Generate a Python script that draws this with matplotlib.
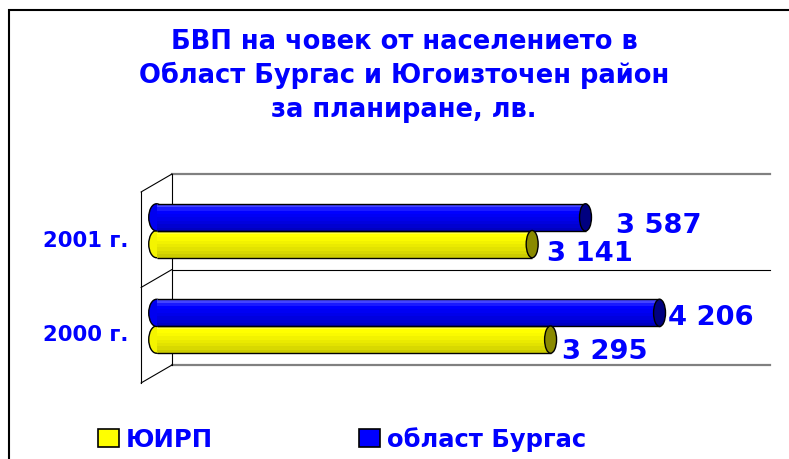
import matplotlib
matplotlib.use("Agg")
import matplotlib.pyplot as plt
from matplotlib.patches import Ellipse, Patch, Rectangle
from matplotlib.transforms import offset_copy

# ---- data ----
categories = ["2000 г.", "2001 г."]
juirp = [3295, 3141]          # ЮИРП (yellow)
burgas = [4206, 3587]         # област Бургас (blue)
series_names = ["ЮИРП", "област Бургас"]
title_lines = ["БВП на човек от населението в",
               "Област Бургас и Югоизточен район",
               "за планиране, лв."]

BLUE_TXT = "#0000FF"
W, H = 789, 460
fig = plt.figure(figsize=(W / 100, H / 100), dpi=100)
fig.patch.set_facecolor("white")

# figure border (left & top visible, right/bottom cut)
fig.patches.append(Rectangle((9 / W, -0.05), 1.2, 1.05 - 10.5 / H,
                             transform=fig.transFigure, fill=False,
                             ec="black", lw=1.5, clip_on=False))

# title
for txt, base in zip(title_lines, [49, 83, 117]):
    fig.text(404 / W, 1 - base / H, txt, ha="center", va="baseline",
             fontsize=18.5, fontweight="bold", color=BLUE_TXT)

# axes = middle depth plane
ax = fig.add_axes([156.5 / W, 1 - 375 / H, 598 / W, 191 / H])
ax.set_xlim(0, 5000)
ax.set_ylim(-0.5, 1.5)
ax.axis("off")

DX, DY = 15.5, 9
back = offset_copy(ax.transData, fig=fig, x=DX, y=DY, units="dots")
front = offset_copy(ax.transData, fig=fig, x=-DX, y=-DY, units="dots")

bounds = [-0.5, 0.5, 1.5]
for b in bounds:
    col, lw = ("black", 0.8) if b == 0.5 else ("#808080", 1.6)
    ax.plot([0, 5000], [b, b], color=col, lw=lw, transform=back,
            clip_on=False, zorder=1)
    ax.annotate("", xy=(0, b), xycoords=back, xytext=(0, b), textcoords=front,
                arrowprops=dict(arrowstyle="-", lw=0.8, color="black",
                                shrinkA=0, shrinkB=0), zorder=1)
ax.plot([0, 0], [-0.5, 1.5], color="black", lw=0.8, transform=back,
        clip_on=False, zorder=1)
ax.plot([0, 0], [-0.5, 1.5], color="black", lw=0.8, transform=front,
        clip_on=False, zorder=1)

bar_h = 0.285
off = 0.14
cap_w = 100
blue_grad = ["#4545ff", "#1a1aff", "#0000ff", "#0000f4", "#0000ea",
             "#0000de", "#0000d0", "#0000c0"]
yel_grad = ["#ffff40", "#ffff00", "#fafa00", "#f2f200", "#eaea00",
            "#e2e200", "#d8d800", "#cccc00"]

def cylinder(yc_list, vals, grad, main, capcol):
    n = len(grad)
    sh = bar_h / n
    for i, c in enumerate(grad):
        ys = [yc + bar_h / 2 - (i + 0.5) * sh for yc in yc_list]
        ax.barh(ys, vals, height=sh * 1.02, left=0, color=c, lw=0, zorder=3)
    ax.hlines([yc + bar_h / 2 for yc in yc_list], 0, vals, color="black",
              lw=1.0, zorder=4)
    ax.hlines([yc - bar_h / 2 for yc in yc_list], 0, vals, color="black",
              lw=1.0, zorder=4)
    for yc, v in zip(yc_list, vals):
        ax.add_patch(Ellipse((0, yc), cap_w * 1.3, bar_h, fc=main, ec="black",
                             lw=1.0, zorder=2, clip_on=False))
        ax.add_patch(Ellipse((v, yc), cap_w, bar_h, fc=capcol, ec="black",
                             lw=1.0, zorder=5, clip_on=False))

ypos = list(range(len(categories)))
yy = [y - off for y in ypos]
yb = [y + off for y in ypos]
cylinder(yy, juirp, yel_grad, "#f4f400", "#8a8a00")
cylinder(yb, burgas, blue_grad, "#0000f0", "#000080")

def fmt(v):
    return f"{v:,}".replace(",", " ")

# label offsets (pixels: dx right, baseline below bar centre)
lab_off_y = [(11, 18), (15, 15.5)]      # yellow: 2000, 2001
lab_off_b = [(8, 11.5), (30, 14.5)]     # blue: 2000, 2001
for yc, v, (dx, dy) in zip(yy, juirp, lab_off_y):
    ax.annotate(fmt(v), xy=(v, yc), xytext=(dx, -dy), textcoords="offset pixels",
                ha="left", va="baseline", fontsize=19.7, fontweight="bold",
                color=BLUE_TXT, zorder=6)
for yc, v, (dx, dy) in zip(yb, burgas, lab_off_b):
    ax.annotate(fmt(v), xy=(v, yc), xytext=(dx, -dy), textcoords="offset pixels",
                ha="left", va="baseline", fontsize=19.7, fontweight="bold",
                color=BLUE_TXT, zorder=6)

# category labels
for y, cat, dy in zip(ypos, categories, [13.75, 15.25]):
    ax.annotate(cat, xy=(0, y), xytext=(-28.5, -dy), textcoords="offset pixels",
                ha="right", va="baseline", fontsize=15.2, fontweight="bold",
                color=BLUE_TXT)

# legend
handles = [Patch(fc="#ffff00", ec="black", lw=1.2),
           Patch(fc="#0000ff", ec="black", lw=1.2)]
fig.legend(handles, series_names, loc="center left",
           bbox_to_anchor=(98 / W, 1 - 440 / H), ncol=2, frameon=False,
           prop=dict(size=17.5, weight="bold"), labelcolor=BLUE_TXT,
           handlelength=0.85, handleheight=0.75, handletextpad=0.3,
           columnspacing=6.0, borderpad=0, borderaxespad=0)

fig.savefig("out.png", dpi=100)
